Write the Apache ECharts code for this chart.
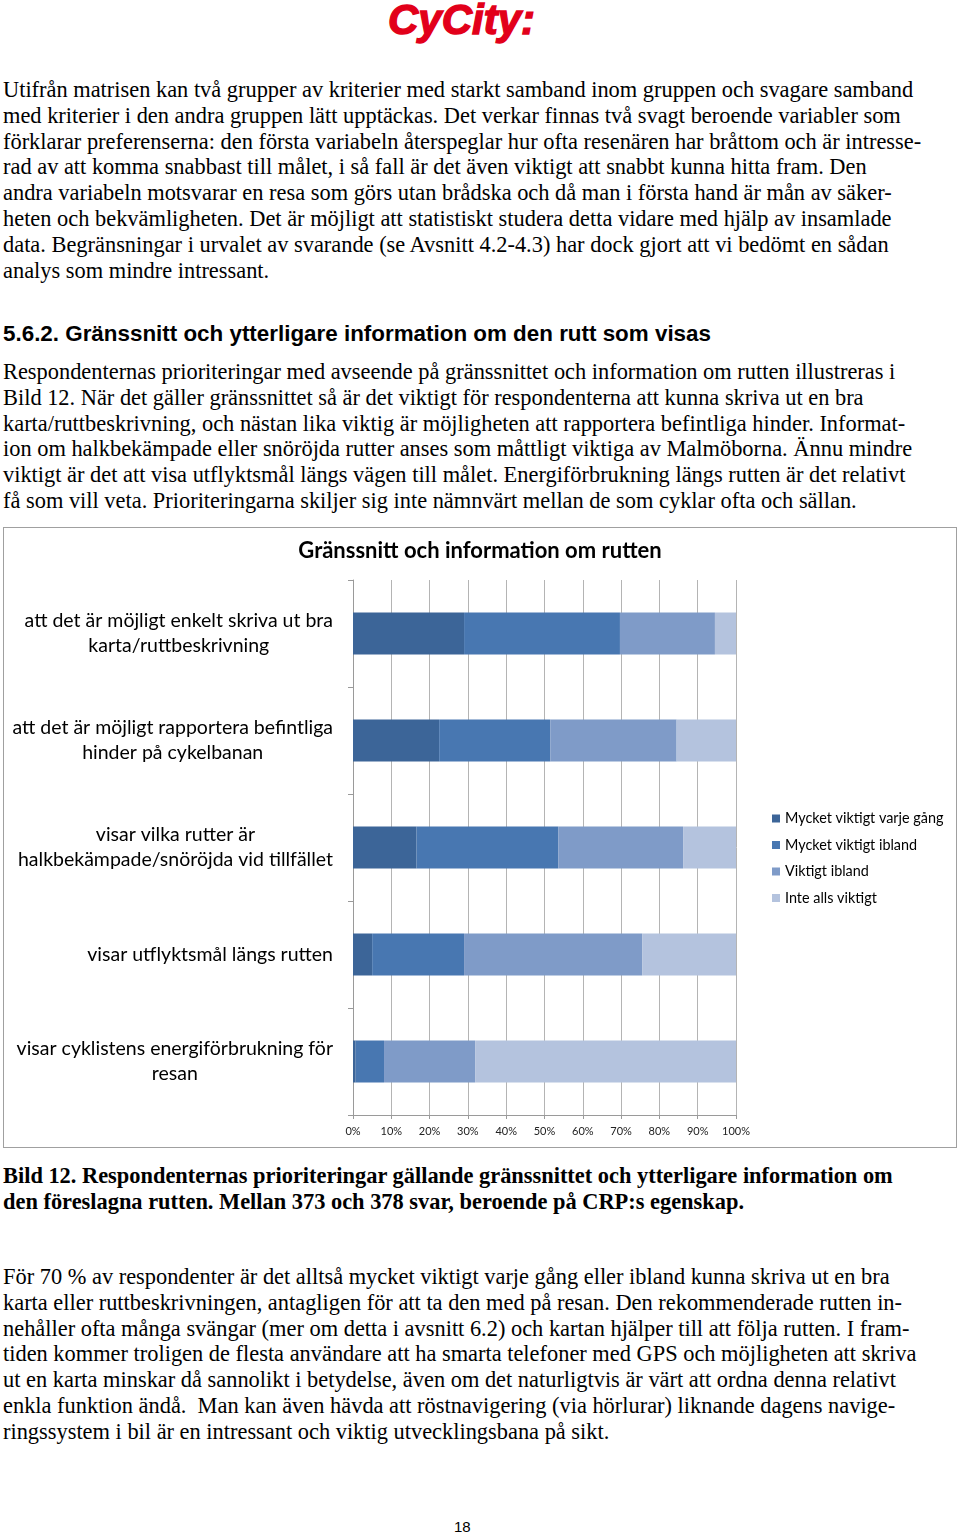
<!DOCTYPE html>
<html>
<head>
<meta charset="utf-8">
<script src="https://cdn.jsdelivr.net/npm/echarts@6/dist/echarts.min.js"></script>
<style>
  html, body { margin: 0; padding: 0; background: #fff; }
  body { width: 960px; height: 1536px; position: relative; overflow: hidden; }
  .logo { position: absolute; left: 388px; top: -4px; font: italic bold 42px "Liberation Sans", Arial, sans-serif; color: #e2001a; -webkit-text-stroke: 1.4px #e2001a; letter-spacing: 0px; }
  .txt { position: absolute; left: 3px; font-family: "Liberation Serif", "Times New Roman", serif; font-size: 22.4px; line-height: 25.8px; color: #000; white-space: pre; }
  .bold { font-weight: bold; }
  .head { position: absolute; left: 3px; top: 321px; font: bold 22.4px "Liberation Sans", Arial, sans-serif; color: #000; white-space: pre; }
  #chart { position: absolute; left: 3px; top: 527px; width: 954px; height: 621px; border: 1px solid #a0a0a0; box-sizing: border-box; }
  .pageno { position: absolute; left: 454px; top: 1518px; font: 15px "Liberation Sans", Arial, sans-serif; color: #000; }
</style>
</head>
<body>
<div class="logo">CyCity:</div>

<div class="txt" style="top:77px">Utifrån matrisen kan två grupper av kriterier med starkt samband inom gruppen och svagare samband
med kriterier i den andra gruppen lätt upptäckas. Det verkar finnas två svagt beroende variabler som
förklarar preferenserna: den första variabeln återspeglar hur ofta resenären har bråttom och är intresse-
rad av att komma snabbast till målet, i så fall är det även viktigt att snabbt kunna hitta fram. Den
andra variabeln motsvarar en resa som görs utan brådska och då man i första hand är mån av säker-
heten och bekvämligheten. Det är möjligt att statistiskt studera detta vidare med hjälp av insamlade
data. Begränsningar i urvalet av svarande (se Avsnitt 4.2-4.3) har dock gjort att vi bedömt en sådan
analys som mindre intressant.</div>

<div class="head">5.6.2. Gränssnitt och ytterligare information om den rutt som visas</div>

<div class="txt" style="top:359px">Respondenternas prioriteringar med avseende på gränssnittet och information om rutten illustreras i
Bild 12. När det gäller gränssnittet så är det viktigt för respondenterna att kunna skriva ut en bra
karta/ruttbeskrivning, och nästan lika viktig är möjligheten att rapportera befintliga hinder. Informat-
ion om halkbekämpade eller snöröjda rutter anses som måttligt viktiga av Malmöborna. Ännu mindre
viktigt är det att visa utflyktsmål längs vägen till målet. Energiförbrukning längs rutten är det relativt
få som vill veta. Prioriteringarna skiljer sig inte nämnvärt mellan de som cyklar ofta och sällan.</div>

<div id="chart"></div>

<div class="txt bold" style="top:1163px">Bild 12. Respondenternas prioriteringar gällande gränssnittet och ytterligare information om
den föreslagna rutten. Mellan 373 och 378 svar, beroende på CRP:s egenskap.</div>

<div class="txt" style="top:1264px">För 70 % av respondenter är det alltså mycket viktigt varje gång eller ibland kunna skriva ut en bra
karta eller ruttbeskrivningen, antagligen för att ta den med på resan. Den rekommenderade rutten in-
nehåller ofta många svängar (mer om detta i avsnitt 6.2) och kartan hjälper till att följa rutten. I fram-
tiden kommer troligen de flesta användare att ha smarta telefoner med GPS och möjligheten att skriva
ut en karta minskar då sannolikt i betydelse, även om det naturligtvis är värt att ordna denna relativt
enkla funktion ändå.  Man kan även hävda att röstnavigering (via hörlurar) liknande dagens navige-
ringssystem i bil är en intressant och viktig utvecklingsbana på sikt.</div>

<div class="pageno">18</div>

<script>
var chartTitle = 'Gränssnitt och information om rutten';
var categories = [
    'att det är möjligt enkelt skriva ut bra\nkarta/ruttbeskrivning',
    'att det är möjligt rapportera befintliga\nhinder på cykelbanan',
    'visar vilka rutter är\nhalkbekämpade/snöröjda vid tillfället',
    'visar utflyktsmål längs rutten',
    'visar cyklistens energiförbrukning för\nresan'
];
var seriesNames = ['Mycket viktigt varje gång', 'Mycket viktigt ibland', 'Viktigt ibland', 'Inte alls viktigt'];
var varjeGang = [29.0, 22.5, 16.6, 5.0, 0.7];
var ibland = [40.7, 29.0, 37.0, 24.0, 7.4];
var viktigt = [24.8, 33.0, 32.6, 46.5, 23.8];
var inteAlls = [5.5, 15.5, 13.8, 24.5, 68.1];
var colors = ['#3c6598', '#4877b1', '#7f9bc8', '#b4c3de'];

var chart = echarts.init(document.getElementById('chart'));

var values = [varjeGang, ibland, viktigt, inteAlls];
var series = seriesNames.map(function (name, i) {
    return {
        name: name,
        type: 'bar',
        stack: 'total',
        barWidth: 42,
        data: values[i],
        itemStyle: { color: colors[i] },
        emphasis: { disabled: true }
    };
});

var option = {
    animation: false,
    textStyle: { fontFamily: 'Lato' },
    title: {
        text: chartTitle,
        left: 'center',
        top: 7,
        textStyle: { fontFamily: 'Lato', fontWeight: 'bold', fontSize: 22, color: '#000' }
    },
    legend: {
        orient: 'vertical',
        left: 768,
        top: 283,
        padding: 0,
        itemWidth: 8,
        itemHeight: 8,
        itemGap: 11.5,
        icon: 'rect',
        data: seriesNames,
        textStyle: { fontFamily: 'Lato', fontSize: 14.4, color: '#000', lineHeight: 15 }
    },
    grid: { left: 349, top: 52, width: 383, height: 535 },
    xAxis: {
        type: 'value',
        min: 0,
        max: 100,
        interval: 10,
        axisLine: { show: true, lineStyle: { color: '#9a9a9a' } },
        axisTick: { show: true, length: 4, lineStyle: { color: '#9a9a9a' } },
        splitLine: { show: true, lineStyle: { color: '#b4b4b4' } },
        axisLabel: { formatter: '{value}%', fontFamily: 'Lato', fontSize: 11, color: '#222', margin: 11 }
    },
    yAxis: {
        type: 'category',
        inverse: true,
        data: categories,
        axisLine: { show: true, lineStyle: { color: '#9a9a9a' } },
        axisTick: { show: true, length: 5, lineStyle: { color: '#9a9a9a' } },
        axisLabel: {
            margin: 20,
            align: 'right',
            formatter: function (v) {
                return v.split('\n').map(function (s) { return '{c|' + s + '}'; }).join('\n');
            },
            rich: {
                c: { align: 'center', fontFamily: 'Lato', fontSize: 19.5, lineHeight: 25, color: '#000' }
            }
        }
    },
    series: series
};

chart.setOption(option);
</script>
</body>
</html>
